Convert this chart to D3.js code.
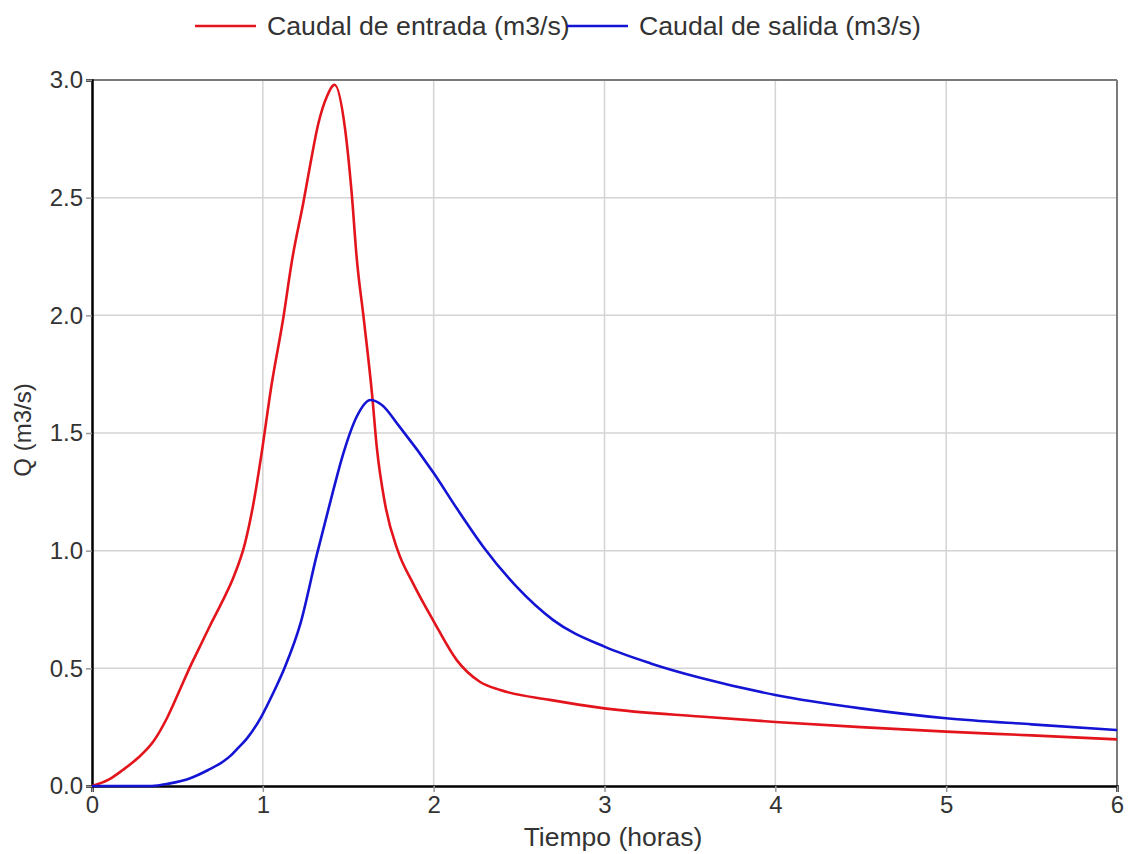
<!DOCTYPE html>
<html lang="es">
<head>
<meta charset="UTF-8">
<title>Caudal de entrada y salida</title>
<script src="https://d3js.org/d3.v7.min.js"></script>
<style>
  body { margin: 0; background: #fff; }
  text { font-family: "Liberation Sans", Arial, sans-serif; fill: #333; }
</style>
</head>
<body>
<script>
// tiempo (horas), caudal (m3/s)
const entradaT = [0, 0.1, 0.18, 0.27, 0.36, 0.44, 0.515, 0.57, 0.63, 0.69, 0.76, 0.83, 0.895, 0.945, 0.99,
  1.05, 1.12, 1.17, 1.24, 1.275, 1.325, 1.375, 1.42, 1.48, 1.52, 1.55, 1.59, 1.64, 1.667, 1.715, 1.79,
  1.88, 2.0, 2.135, 2.27, 2.39, 2.68, 3.0, 3.56, 4.0, 4.5, 5.0, 5.5, 6.0];
const entradaQ = [0, 0.028, 0.068, 0.12, 0.19, 0.29, 0.41, 0.50, 0.59, 0.68, 0.78, 0.89, 1.03, 1.20, 1.40,
  1.70, 1.99, 2.23, 2.49, 2.63, 2.815, 2.93, 2.98, 2.80, 2.52, 2.24, 1.99, 1.66, 1.44, 1.20, 1.00,
  0.86, 0.70, 0.535, 0.443, 0.408, 0.366, 0.33, 0.295, 0.272, 0.25, 0.231, 0.215, 0.198];

const salidaT = [0, 0.35, 0.45, 0.575, 0.68, 0.77, 0.81, 0.85, 0.905, 0.99, 1.06, 1.13, 1.22, 1.315, 1.41, 1.47, 1.55,
  1.63, 1.695, 1.80, 2.0, 2.135, 2.29, 2.485, 2.70, 3.0, 3.27, 3.56, 4.0, 4.5, 5.0, 5.5, 6.0];
const salidaQ = [0, 0, 0.01, 0.033, 0.068, 0.105, 0.128, 0.158, 0.2, 0.293, 0.394, 0.507, 0.69, 0.98, 1.25, 1.41, 1.57,
  1.64, 1.62, 1.527, 1.33, 1.18, 1.017, 0.847, 0.705, 0.592, 0.521, 0.46, 0.387, 0.33, 0.288, 0.262, 0.238];

const xTicks = [0, 1, 2, 3, 4, 5, 6];
const yTicks = [0, 0.5, 1.0, 1.5, 2.0, 2.5, 3.0];

const series = [
  { name: "Caudal de entrada (m3/s)", color: "#e3141b", t: entradaT, q: entradaQ },
  { name: "Caudal de salida (m3/s)", color: "#1414d4", t: salidaT, q: salidaQ }
];

const width = 1130, height = 854;
const margin = { top: 80, right: 13, bottom: 68, left: 92 };
const w = width - margin.left - margin.right, h = height - margin.top - margin.bottom;

const svg = d3.select("body").append("svg").attr("width", width).attr("height", height);
const g = svg.append("g").attr("transform", `translate(${margin.left},${margin.top})`);

const x = d3.scaleLinear().domain([0, 6]).range([0, w]);
const y = d3.scaleLinear().domain([0, 3]).range([h, 0]);

// rejilla
g.append("g").selectAll("line").data(xTicks.slice(1, -1)).enter().append("line")
  .attr("x1", d => x(d)).attr("x2", d => x(d)).attr("y1", 0).attr("y2", h)
  .attr("stroke", "#d4d4d4").attr("stroke-width", 1.5);
g.append("g").selectAll("line").data(yTicks.slice(1, -1)).enter().append("line")
  .attr("y1", d => y(d)).attr("y2", d => y(d)).attr("x1", 0).attr("x2", w)
  .attr("stroke", "#d4d4d4").attr("stroke-width", 1.5);

// marco superior y derecho
g.append("line").attr("x1", 0).attr("x2", w).attr("y1", 0).attr("y2", 0).attr("stroke", "#7a7a7a").attr("stroke-width", 2);
g.append("line").attr("x1", w).attr("x2", w).attr("y1", 0).attr("y2", h).attr("stroke", "#7a7a7a").attr("stroke-width", 2);

// ejes
const xAxis = g.append("g").attr("transform", `translate(0,${h})`)
  .call(d3.axisBottom(x).tickValues(xTicks).tickFormat(d3.format("d")).tickSize(6).tickPadding(4));
const yAxis = g.append("g")
  .call(d3.axisLeft(y).tickValues(yTicks).tickFormat(d3.format(".1f")).tickSize(6).tickPadding(3));
[xAxis, yAxis].forEach(a => {
  a.select(".domain").attr("stroke", "#000").attr("stroke-width", 2.5);
  a.selectAll(".tick line").attr("stroke", "#999").attr("stroke-width", 1.5);
  a.selectAll(".tick text").style("font-size", "24px").attr("fill", "#333");
});

// curvas
const line = d3.line().curve(d3.curveMonotoneX).x(d => x(d[0])).y(d => y(d[1]));
series.forEach(s => {
  g.append("path")
    .datum(d3.zip(s.t, s.q))
    .attr("fill", "none")
    .attr("stroke", s.color)
    .attr("stroke-width", 2.6)
    .attr("stroke-linejoin", "round")
    .attr("d", line);
});

// titulos de ejes
svg.append("text").attr("x", 613).attr("y", 846)
  .attr("text-anchor", "middle").style("font-size", "26.5px").text("Tiempo (horas)");
svg.append("text").attr("transform", "translate(31,430) rotate(-90)")
  .attr("text-anchor", "middle").style("font-size", "24px").text("Q (m3/s)");

// leyenda
const legX = [195, 567];
series.forEach((s, i) => {
  const lg = svg.append("g").attr("transform", `translate(${legX[i]},26)`);
  lg.append("line").attr("x1", 0).attr("x2", 61).attr("y1", 0).attr("y2", 0)
    .attr("stroke", s.color).attr("stroke-width", 2.6);
  lg.append("text").attr("x", 72).attr("y", 9).style("font-size", "26.7px").text(s.name);
});
</script>
</body>
</html>
